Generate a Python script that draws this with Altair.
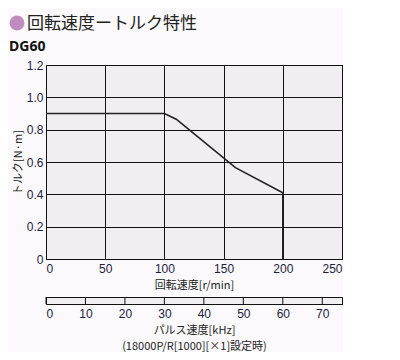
import altair as alt
import pandas as pd

speed = [0, 100, 110, 160, 200, 200]
torque = [0.9, 0.9, 0.865, 0.565, 0.41, 0.0]
x_ticks = [0, 50, 100, 150, 200, 250]
y_ticks = [0, 0.2, 0.4, 0.6, 0.8, 1.0, 1.2]
pulse_ticks = [0, 10, 20, 30, 40, 50, 60, 70]

df = pd.DataFrame({"speed": speed, "torque": torque})
pdf = pd.DataFrame({"pulse": pulse_ticks})

label_color = "#1c1c3c"
font = "Liberation Sans"

xsc = alt.Scale(domain=[0, 250], nice=False)
ysc = alt.Scale(domain=[0, 1.2], nice=False)

line = alt.Chart(df).mark_line(color="#222222", strokeWidth=1.6, clip=False).encode(
    x=alt.X("speed:Q", scale=xsc,
            axis=alt.Axis(values=x_ticks, title="回転速度[r/min]", grid=True,
                          gridColor="#111111", gridOpacity=1, gridWidth=1,
                          ticks=False, domain=False, labelPadding=4,
                          labelColor=label_color, labelFont=font, labelFontSize=12,
                          titleFont="Noto Sans CJK JP", titleFontSize=11, titleFontWeight="normal",
                          titleColor="#222222", titlePadding=5)),
    y=alt.Y("torque:Q", scale=ysc,
            axis=alt.Axis(values=y_ticks, title="トルク[N·m]", grid=True,
                          gridColor="#111111", gridOpacity=1, gridWidth=1,
                          ticks=False, domain=False, labelPadding=3,
                          labelExpr="datum.value == 0 ? '0' : format(datum.value, '.1f')",
                          labelColor=label_color, labelFont=font, labelFontSize=12,
                          titleFont="Noto Sans CJK JP", titleFontSize=11, titleFontWeight="normal",
                          titleColor="#222222", titlePadding=3)),
)

circle = alt.Chart(pd.DataFrame({"a": [0]})).mark_circle(color="#c08cc0", opacity=1, size=220).encode(
    x=alt.value(-29), y=alt.value(-42))
title = alt.Chart(pd.DataFrame({"a": [0]})).mark_text(
    text="回転速度ートルク特性", align="left", baseline="alphabetic",
    font="Noto Sans CJK JP", fontSize=17, color="#222222").encode(
    x=alt.value(-19), y=alt.value(-36))
sub = alt.Chart(pd.DataFrame({"a": [0]})).mark_text(
    text="DG60", align="left", baseline="alphabetic",
    font="Noto Sans", fontWeight="bold", fontSize=14, color="#111111").encode(
    x=alt.value(-37), y=alt.value(-14))

top = alt.layer(line, circle, title, sub).properties(width=296, height=194)

ticks = alt.Chart(pdf).mark_rule(color="#111111", strokeWidth=1).encode(
    x=alt.X("pulse:Q", scale=alt.Scale(domain=[0, 75], nice=False),
            axis=alt.Axis(values=pulse_ticks, title=["パルス速度[kHz]", "(18000P/R[1000][×1]設定時)"],
                          grid=False, ticks=False, domain=True, domainColor="#111111", domainWidth=1,
                          labelPadding=4, labelColor=label_color, labelFont=font, labelFontSize=12,
                          titleFont="Noto Sans CJK JP", titleFontSize=11, titleFontWeight="normal",
                          titleColor="#222222", titlePadding=5, titleLineHeight=16)),
    y=alt.value(0), y2=alt.value(7),
)
bottom = ticks.properties(width=296, height=7)

chart = alt.vconcat(top, bottom, spacing=5).configure(
    background="#fbf9fb"
).configure_view(fill="#f0eef0", stroke="#111111", strokeWidth=1).properties(
    padding={"left": 0, "top": 6, "right": 0, "bottom": 0}
)

chart.save("out.html", embed_options={"renderer": "svg", "actions": False})
